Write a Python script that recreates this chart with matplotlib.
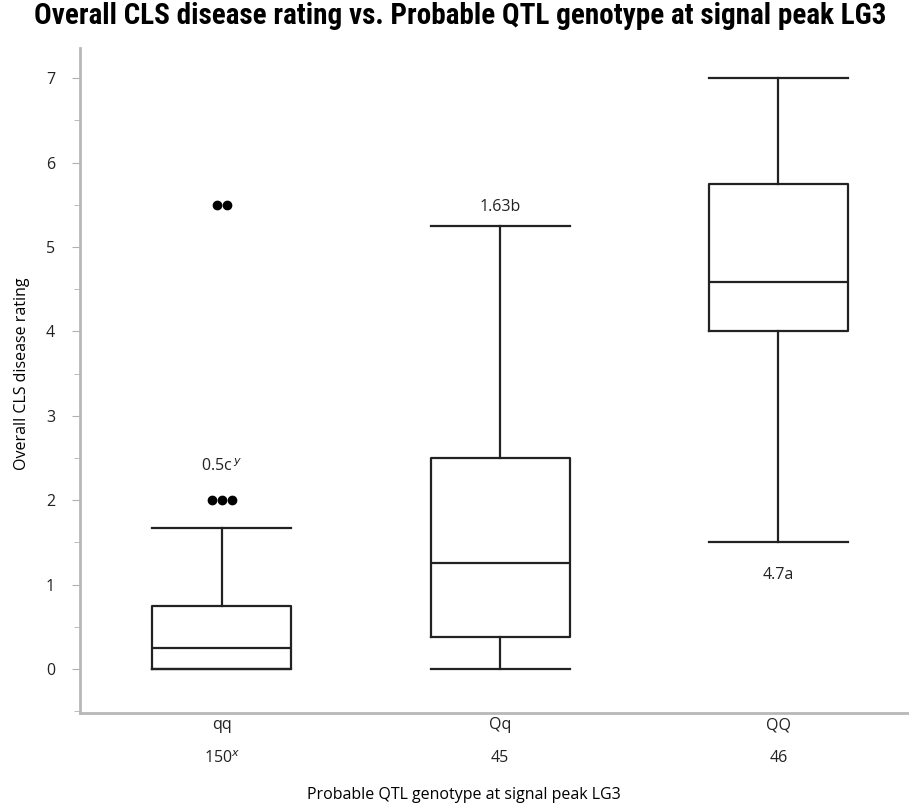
import numpy as np
import matplotlib.pyplot as plt
from matplotlib import font_manager

# genotype groups and box statistics
genotypes = ['qq', 'Qq', 'QQ']
counts = ['150$^{x}$', '45', '46']
q1 = [0.0, 0.375, 4.0]
medians = [0.25, 1.25, 4.58]
q3 = [0.75, 2.5, 5.75]
whisker_low = [0.0, 0.0, 1.5]
whisker_high = [1.67, 5.25, 7.0]

# outliers for qq (jittered horizontally in the original)
outlier_vals = [2.0, 2.0, 2.0, 5.5, 5.5]
outlier_jitter = [-0.035, 0.0, 0.035, -0.018, 0.018]

# mean separation letters
letters = ['0.5c', '1.63b', '4.7a']
letter_y = [2.4, 5.47, 1.11]

plt.rcParams['font.family'] = ['Open Sans', 'DejaVu Sans']
plt.rcParams['text.color'] = '#222222'
plt.rcParams['xtick.labelcolor'] = '#222222'
plt.rcParams['ytick.labelcolor'] = '#222222'

# condensed font for the title if one is around
names = set(f.name for f in font_manager.fontManager.ttflist)
title_font, title_size = 'DejaVu Sans', 15
for cand in ['Roboto Condensed', 'Liberation Sans Narrow', 'DejaVu Sans Condensed']:
    if cand in names:
        title_font, title_size = cand, 21
        break

fig = plt.figure(figsize=(9.09, 8.11), dpi=100)
ax = fig.add_axes([0.088, 0.121, 0.912, 0.82])

stats = []
for i, g in enumerate(genotypes):
    stats.append({'label': g, 'q1': q1[i], 'med': medians[i], 'q3': q3[i],
                  'whislo': whisker_low[i], 'whishi': whisker_high[i], 'fliers': []})

pos = np.arange(len(genotypes))
line = dict(color='#222222', linewidth=1.6)
ax.bxp(stats, positions=pos, widths=0.5, showfliers=False,
       boxprops=line, whiskerprops=line, capprops=line, medianprops=line,
       capwidths=0.5)

ax.plot(pos[0] + np.array(outlier_jitter), outlier_vals, 'o', color='black', markersize=6)

fs = 11.5
ax.text(pos[0], letter_y[0], letters[0] + '$^{\\,y}$', ha='center', va='center', fontsize=fs)
ax.text(pos[1], letter_y[1], letters[1], ha='center', va='center', fontsize=fs)
ax.text(pos[2], letter_y[2], letters[2], ha='center', va='center', fontsize=fs)

ax.set_xlim(-0.51, 2.47)
ax.set_ylim(-0.52, 7.36)
ax.set_yticks(range(8))
ax.set_yticks(np.arange(-0.5, 7.5, 1.0), minor=True)
ax.set_xticks(pos)
ax.set_xticklabels([g + '\n' + c for g, c in zip(genotypes, counts)], linespacing=2.4)
ax.tick_params(axis='x', length=0, pad=3, labelsize=fs)
ax.tick_params(axis='y', which='major', length=6, color='#b0b0b0', labelsize=fs, pad=12)
ax.tick_params(axis='y', which='minor', length=4, color='#b0b0b0')

for s in ['top', 'right']:
    ax.spines[s].set_visible(False)
for s in ['left', 'bottom']:
    ax.spines[s].set_color('#b8b8b8')
    ax.spines[s].set_linewidth(2)

ax.set_ylabel('Overall CLS disease rating', fontsize=fs)
ax.set_xlabel('Probable QTL genotype at signal peak LG3', fontsize=fs)
ax.yaxis.set_label_coords(-0.06, 0.51)
ax.xaxis.set_label_coords(0.463, -0.112)

fig.suptitle('Overall CLS disease rating vs. Probable QTL genotype at signal peak LG3',
             fontsize=title_size, fontweight='bold', family=[title_font, 'DejaVu Sans'],
             color='black', x=0.506, y=0.997)

fig.savefig('out.png', dpi=100)
